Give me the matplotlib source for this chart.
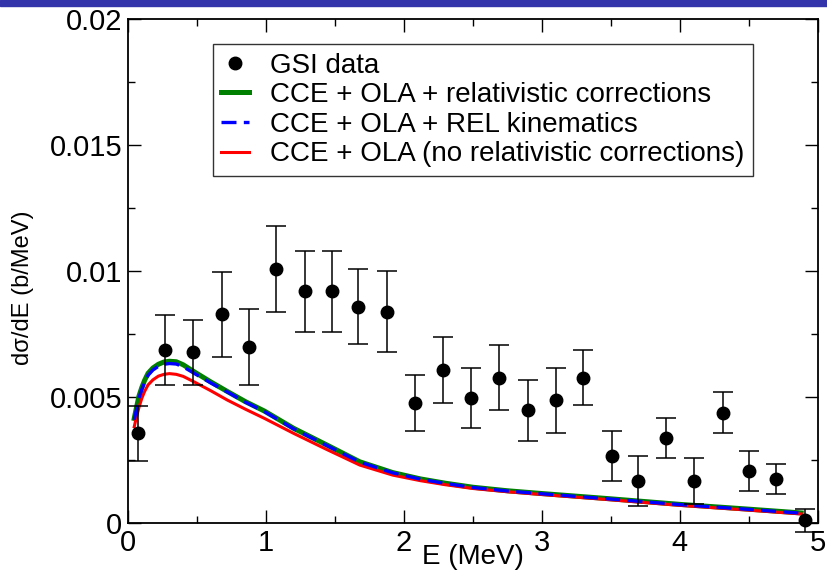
import matplotlib
matplotlib.use("Agg")
import matplotlib.pyplot as plt
import matplotlib.patches as mpatches
from matplotlib.lines import Line2D
from matplotlib.ticker import MultipleLocator, FuncFormatter

plt.rcParams['font.family'] = ['Liberation Sans', 'DejaVu Sans']

# GSI data (E in MeV, dsigma/dE in b/MeV)
gsi_e = [0.07, 0.27, 0.47, 0.68, 0.88, 1.07, 1.28, 1.48, 1.67, 1.88,
         2.08, 2.28, 2.49, 2.69, 2.90, 3.10, 3.30, 3.51, 3.70, 3.90,
         4.10, 4.31, 4.50, 4.70, 4.91]
gsi_y = [0.00356, 0.00687, 0.00677, 0.00828, 0.00698, 0.01008, 0.00919,
         0.00919, 0.00859, 0.00839, 0.00477, 0.00607, 0.00496, 0.00577,
         0.00447, 0.00487, 0.00577, 0.00267, 0.00167, 0.00337, 0.00167,
         0.00438, 0.00206, 0.00176, 0.0001]
gsi_err = [0.0011, 0.0014, 0.0013, 0.0017, 0.0015, 0.0017, 0.0016,
           0.0016, 0.0015, 0.0016, 0.0011, 0.0013, 0.0012, 0.0013,
           0.0012, 0.0013, 0.0011, 0.0010, 0.0010, 0.0008, 0.0009,
           0.0008, 0.0008, 0.0006, 0.00046]

# model curves
curve_e = [0.045, 0.06, 0.08, 0.10, 0.12, 0.145, 0.18, 0.22, 0.26, 0.30,
           0.35, 0.40, 0.48, 0.60, 0.72, 0.85, 0.99, 1.20, 1.44, 1.68,
           1.92, 2.12, 2.30, 2.50, 2.75, 3.00, 3.50, 4.00, 4.50, 4.88]
green_y = [0.00415, 0.00455, 0.00505, 0.00538, 0.00566, 0.00594, 0.00615,
           0.0063, 0.00639, 0.00642, 0.0064, 0.00628, 0.0060, 0.0056,
           0.00522, 0.00482, 0.00444, 0.00376, 0.0031, 0.00243, 0.0020,
           0.00175, 0.00158, 0.00142, 0.00128, 0.00117, 0.00096, 0.00074,
           0.00055, 0.0004]
blue_y = [0.0041, 0.00448, 0.00497, 0.0053, 0.00558, 0.00586, 0.00607,
          0.00622, 0.0063, 0.00633, 0.00631, 0.0062, 0.00594, 0.00556,
          0.0052, 0.0048, 0.00442, 0.00374, 0.00308, 0.00242, 0.00199,
          0.00174, 0.00157, 0.00141, 0.00127, 0.00116, 0.00095, 0.00073,
          0.00054, 0.00039]
red_y = [0.00382, 0.00418, 0.0046, 0.00495, 0.00522, 0.00548, 0.00568,
         0.00583, 0.0059, 0.00593, 0.0059, 0.00582, 0.0056, 0.00525,
         0.00488, 0.00452, 0.00415, 0.00356, 0.00292, 0.0023, 0.0019,
         0.00168, 0.00152, 0.00137, 0.00124, 0.00113, 0.00092, 0.0007,
         0.00051, 0.00036]

fig = plt.figure(figsize=(8.27, 5.87), dpi=100)
# blue header strip from the slide
fig.patches.append(mpatches.Rectangle((0, 0.99), 1, 0.01, transform=fig.transFigure,
                                      color='#3333aa', zorder=0))
ax = fig.add_axes([0.1548, 0.109, 0.834, 0.8585])

ax.plot(curve_e, green_y, color='#008000', lw=3.6, zorder=2)
ax.plot(curve_e, blue_y, color='#0000ff', lw=2.4, dashes=(4.5, 2.2), zorder=3)
ax.plot(curve_e, red_y, color='#ff0000', lw=2.2, zorder=2)
ax.errorbar(gsi_e, gsi_y, yerr=gsi_err, fmt='o', color='black', ms=9,
            ecolor='black', elinewidth=1.1, capsize=7, capthick=1.1, zorder=4,
            clip_on=False)

ax.set_xlim(0, 5)
ax.set_ylim(0, 0.02)
ax.xaxis.set_major_locator(MultipleLocator(1))
ax.xaxis.set_minor_locator(MultipleLocator(0.5))
ax.yaxis.set_major_locator(MultipleLocator(0.005))
ax.yaxis.set_minor_locator(MultipleLocator(0.0025))
fmt = FuncFormatter(lambda v, p: f'{round(v, 6):g}')
ax.xaxis.set_major_formatter(fmt)
ax.yaxis.set_major_formatter(fmt)
ax.tick_params(which='both', direction='in', top=True, right=True,
               labelsize=21, width=1.0)
ax.tick_params(which='major', length=9.5, pad=4)
ax.tick_params(which='minor', length=5)
for sp in ax.spines.values():
    sp.set_linewidth(1.3)

ax.set_xlabel('E (MeV)', fontsize=20, va='top')
ax.xaxis.set_label_coords(0.5, -0.042)
ax.set_ylabel('dσ/dE (b/MeV)', fontsize=17)
ax.yaxis.set_label_coords(-0.137, 0.466)

handles = [
    Line2D([], [], ls='none', marker='o', color='black', ms=9),
    Line2D([], [], color='#008000', lw=3.6),
    Line2D([], [], color='#0000ff', lw=2.4, dashes=(4.5, 2.2)),
    Line2D([], [], color='#ff0000', lw=2.2),
]
labels = ['GSI data', 'CCE + OLA + relativistic corrections',
          'CCE + OLA + REL kinematics', 'CCE + OLA (no relativistic corrections)']
leg = ax.legend(handles, labels, loc='upper left', bbox_to_anchor=(0.123, 0.95),
                fontsize=20, frameon=True, fancybox=False, edgecolor='black',
                handlelength=1.0, handletextpad=0.75, labelspacing=0.13,
                borderpad=0.3, borderaxespad=0)
leg.get_frame().set_linewidth(1.0)

fig.savefig('out.png', dpi=100)
